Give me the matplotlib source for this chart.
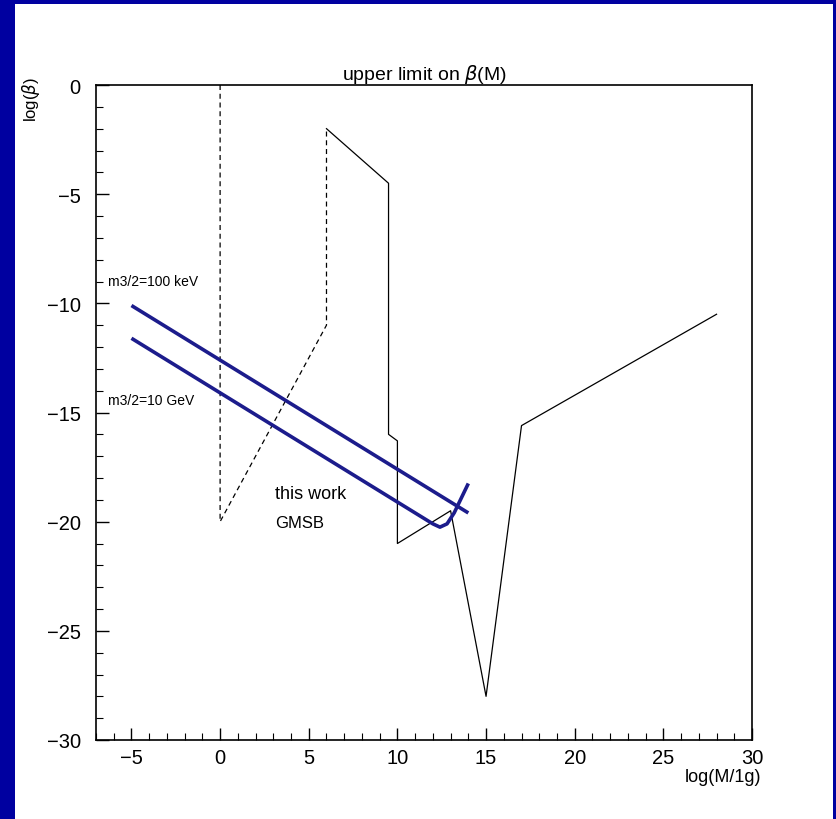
import numpy as np
import matplotlib.pyplot as plt
from matplotlib.patches import Rectangle
from matplotlib.ticker import MultipleLocator

plt.rcParams['font.family'] = ['Liberation Sans', 'DejaVu Sans']

# upper limit curve (solid)
limit_x = [6, 9.5, 9.5, 10, 10, 13, 15, 17, 28]
limit_y = [-2, -4.5, -16, -16.3, -21, -19.5, -28, -15.6, -10.5]

# dashed curve
dash_x = [0, 0, 6, 6]
dash_y = [0, -20, -11, -2]

# GMSB lines (this work)
gmsb_100kev_x = [-5, 14]
gmsb_100kev_y = [-10.1, -19.6]
gmsb_10gev_x = [-5, 11.5, 12.0, 12.4, 12.8, 13.2, 14]
gmsb_10gev_y = [-11.6, -19.85, -20.1, -20.25, -20.1, -19.6, -18.25]

fig = plt.figure(figsize=(8.36, 8.20), dpi=100)
fig.patch.set_facecolor('#0000a0')
fig.patches.append(Rectangle((15/836, 0), (833-15)/836, 1 - 5/820,
                             transform=fig.transFigure, facecolor='white',
                             edgecolor='none', zorder=-1))

ax = fig.add_axes([96/836, 1 - 741/820, (752-96)/836, (741-86)/820])
ax.set_facecolor('white')

ax.plot(dash_x, dash_y, color='black', lw=0.9, ls=(0, (4, 3)))
ax.plot(limit_x, limit_y, color='black', lw=0.9)
ax.plot(gmsb_100kev_x, gmsb_100kev_y, color='#1c1c8c', lw=2.6, solid_capstyle='butt')
ax.plot(gmsb_10gev_x, gmsb_10gev_y, color='#1c1c8c', lw=2.6, solid_capstyle='butt',
        solid_joinstyle='round')

ax.text(-6.3, -9.0, 'm3/2=100 keV', fontsize=10, ha='left', va='center')
ax.text(-6.3, -14.45, 'm3/2=10 GeV', fontsize=10, ha='left', va='center')
ax.text(3.1, -18.7, 'this work', fontsize=13, ha='left', va='center')
ax.text(3.1, -20.05, 'GMSB', fontsize=12, ha='left', va='center')

ax.set_xlim(-7, 30)
ax.set_ylim(-30, 0)
ax.xaxis.set_major_locator(MultipleLocator(5))
ax.xaxis.set_minor_locator(MultipleLocator(1))
ax.yaxis.set_major_locator(MultipleLocator(5))
ax.yaxis.set_minor_locator(MultipleLocator(1))
ax.tick_params(which='both', direction='in', top=False, right=False, labelsize=14.5)
ax.tick_params(axis='x', which='major', pad=6)
ax.tick_params(axis='y', which='major', pad=11)
ax.tick_params(which='major', length=9, width=1)
ax.tick_params(which='minor', length=5, width=0.8)
for s in ax.spines.values():
    s.set_linewidth(1.2)

ax.set_title(r'upper limit on $\beta$(M)', fontsize=14, pad=4)
fig.text(723/836, 1 - 778/820, 'log(M/1g)', fontsize=13, ha='center', va='center')
fig.text(31/836, 1 - 100/820, r'log($\beta$)', fontsize=12, ha='center', va='center',
         rotation=90)

fig.savefig('out.png', dpi=100, facecolor=fig.get_facecolor())
